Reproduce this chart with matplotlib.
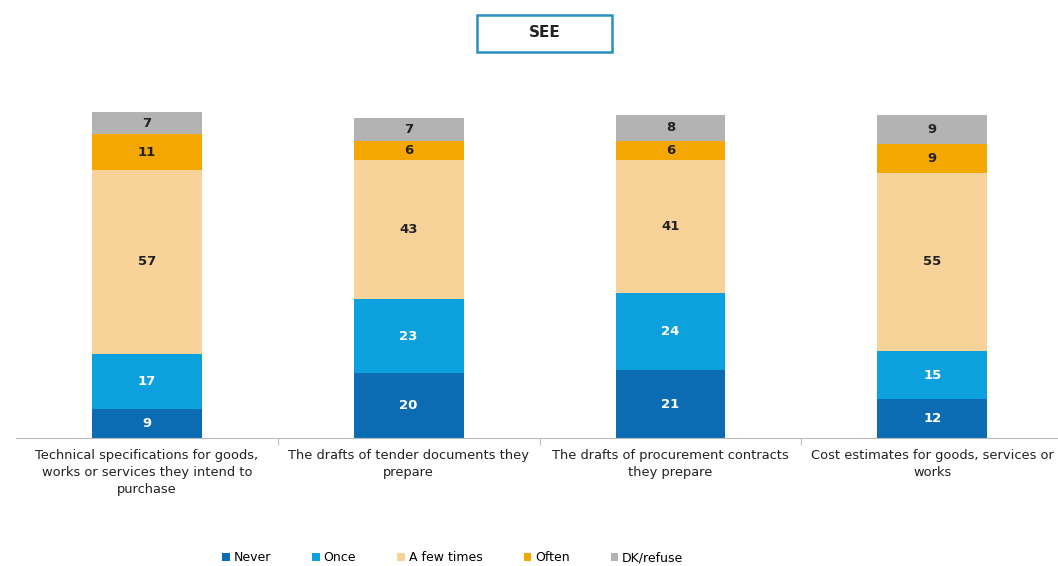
"""
SEE - stacked bars of how often respondents prepared procurement documents.
"""

import matplotlib.pyplot as plt
from matplotlib.patches import Patch

categories = [
    "Technical specifications for goods,\nworks or services they intend to\npurchase",
    "The drafts of tender documents they\nprepare",
    "The drafts of procurement contracts\nthey prepare",
    "Cost estimates for goods, services or\nworks",
]
series_names = ["Never", "Once", "A few times", "Often", "DK/refuse"]
never = [9, 20, 21, 12]
once = [17, 23, 24, 15]
few_times = [57, 43, 41, 55]
often = [11, 6, 6, 9]
dk_refuse = [7, 7, 8, 9]

colors = ["#0b6cb3", "#0ca0dd", "#f7d39a", "#f4a700", "#b3b3b3"]
text_colors = ["white", "white", "#222222", "#222222", "#222222"]

fig = plt.figure(figsize=(10.58, 5.66), dpi=100)
ax = fig.add_axes([0.015, 0.226, 0.99, 0.628])

x = list(range(len(categories)))
bottoms = [0] * len(categories)
for name, vals, col, tcol in zip(series_names, [never, once, few_times, often, dk_refuse],
                                  colors, text_colors):
    ax.bar(x, vals, width=0.42, bottom=bottoms, color=col, label=name)
    for xi, v, b in zip(x, vals, bottoms):
        ax.text(xi, b + v / 2, str(v), ha="center", va="center",
                fontsize=9.5, fontweight="bold", color=tcol)
    bottoms = [b + v for b, v in zip(bottoms, vals)]

ax.set_xlim(-0.5, len(categories) - 0.5)
ax.set_ylim(0, 110)
ax.set_yticks([])
for side in ["left", "right", "top"]:
    ax.spines[side].set_visible(False)
ax.spines["bottom"].set_color("#bbbbbb")

# ticks sit between the categories
ax.set_xticks([i + 0.5 for i in x[:-1]])
ax.set_xticklabels([])
ax.tick_params(axis="x", length=5, color="#bbbbbb")
for xi, cat in zip(x, categories):
    ax.text(xi, -3.5, cat, ha="center", va="top", fontsize=9.4, color="#222222",
            linespacing=1.4)

# title box
fig.text(0.515, 0.942, "SEE", ha="center", va="center", fontsize=11, fontweight="bold",
         color="#222222")
fig.patches.append(plt.Rectangle((0.451, 0.908), 0.127, 0.066, transform=fig.transFigure,
                                 facecolor="none", edgecolor="#2a8fbf", linewidth=1.8))

handles = [Patch(facecolor=c, label=n) for c, n in zip(colors, series_names)]
fig.legend(handles=handles, loc="center", bbox_to_anchor=(0.428, 0.015), ncol=5,
           frameon=False, fontsize=9, handlelength=0.6, handleheight=0.6,
           handletextpad=0.3, columnspacing=3.3)

plt.savefig("out.png", dpi=100)
